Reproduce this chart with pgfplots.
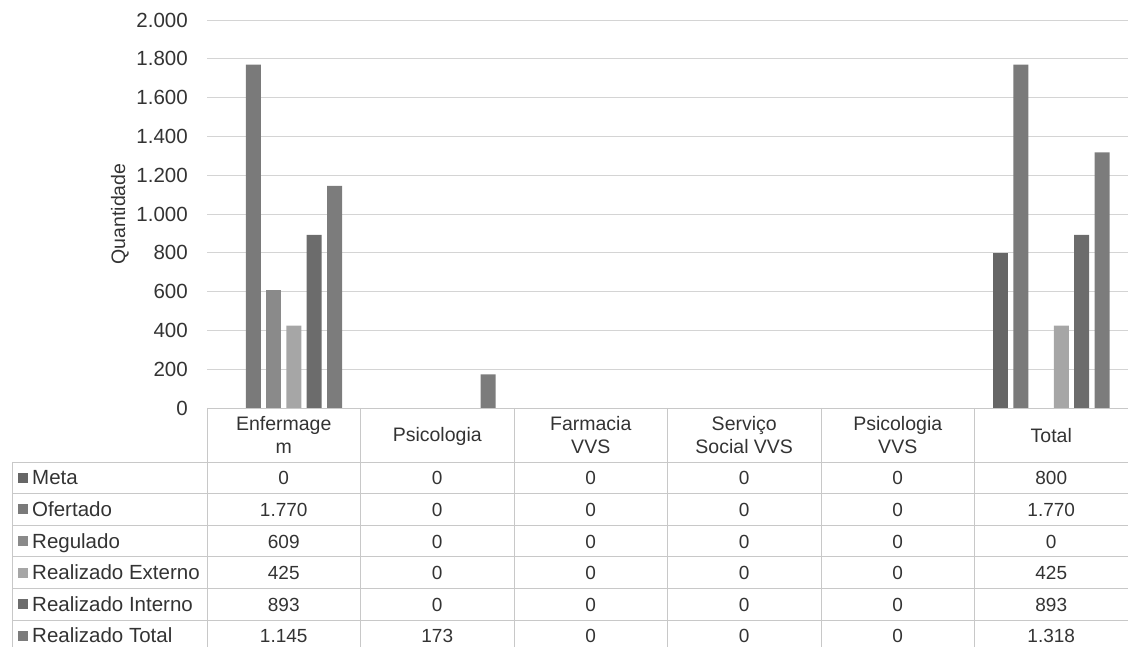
\documentclass[border=0pt]{standalone}
\usepackage{fontspec}
\setmainfont{Liberation Sans}
\usepackage{pgfplots}
\pgfplotsset{compat=1.18}
\usepackage{pgfplotstable}

\definecolor{cMeta}{HTML}{666666}
\definecolor{cOfer}{HTML}{7A7A7A}
\definecolor{cReg}{HTML}{8A8A8A}
\definecolor{cExt}{HTML}{A6A6A6}
\definecolor{cInt}{HTML}{6C6C6C}
\definecolor{cTot}{HTML}{7C7C7C}
\definecolor{gridc}{HTML}{D4D4D4}
\definecolor{tablec}{HTML}{C8C8C8}
\definecolor{txt}{HTML}{333333}

\pgfplotstableread{
x meta ofertado regulado rext rint rtot
0 0   1770 609 425 893 1145
1 0   0    0   0   0   173
2 0   0    0   0   0   0
3 0   0    0   0   0   0
4 0   0    0   0   0   0
5 800 1770 0   425 893 1318
}\datatable

\begin{document}
\begin{tikzpicture}[x=1pt,y=1pt]
\useasboundingbox (0,0) rectangle (1128,646);
\begin{axis}[
  at={(207pt,238pt)}, anchor=south west,
  scale only axis, width=921pt, height=388pt,
  xmin=-0.5, xmax=5.5, ymin=0, ymax=2000,
  ytick={0,200,...,2000}, xtick=\empty,
  ymajorgrids, grid style={color=gridc, line width=0.8pt},
  axis line style={draw=none},
  major tick length=0pt,
  yticklabel style={font=\fontsize{20.5}{24}\selectfont, text=txt, anchor=east, inner sep=0pt, xshift=-19pt},
  /pgf/number format/.cd, 1000 sep={.}, assume math mode=true,
  /pgfplots/.cd,
  ylabel={Quantidade},
  ylabel style={at={(axis description cs:-0.0945,0.5)}, anchor=center, font=\fontsize{19.5}{23}\selectfont, text=txt},
  every axis plot/.append style={ybar, bar width=15pt, draw=none, restrict y to domain=1:5000},
]
\addplot[bar shift=-50.75pt, fill=cMeta] table[x=x, y=meta] {\datatable};
\addplot[bar shift=-30.45pt, fill=cOfer] table[x=x, y=ofertado] {\datatable};
\addplot[bar shift=-10.15pt, fill=cReg] table[x=x, y=regulado] {\datatable};
\addplot[bar shift=10.15pt, fill=cExt] table[x=x, y=rext] {\datatable};
\addplot[bar shift=30.45pt, fill=cInt] table[x=x, y=rint] {\datatable};
\addplot[bar shift=50.75pt, fill=cTot] table[x=x, y=rtot] {\datatable};
\end{axis}

% data table
\begin{scope}[tablec, line width=0.8pt]
\draw (207,238) -- (1128,238);
\foreach \y in {184,152.4,120.8,89.2,57.6,26} \draw (12,\y) -- (1128,\y);
\foreach \x in {207,360.5,514,667.5,821,974.5} \draw (\x,238) -- (\x,-6);
\draw (12,184) -- (12,-6);
\end{scope}

\begin{scope}[every node/.style={font=\fontsize{19.5}{23}\selectfont, text=txt, align=center}]
\node at (283.75,211) {Enfermage\\m};
\node at (437.25,210) {Psicologia};
\node at (590.75,211) {Farmacia\\VVS};
\node at (744.25,211) {Serviço\\Social VVS};
\node at (897.75,211) {Psicologia\\VVS};
\node at (1051.25,210) {Total};
\end{scope}

\foreach \lab/\col/\y/\a/\b/\c/\d/\e/\f in {
  Meta/cMeta/168.2/0/0/0/0/0/800,
  Ofertado/cOfer/136.6/1.770/0/0/0/0/1.770,
  Regulado/cReg/105/609/0/0/0/0/0,
  Realizado Externo/cExt/73.4/425/0/0/0/0/425,
  Realizado Interno/cInt/41.8/893/0/0/0/0/893,
  Realizado Total/cTot/10.2/1.145/173/0/0/0/1.318}{
  \fill[\col] (18,\y-5) rectangle (28,\y+5);
  \node[anchor=base west, inner sep=0pt, font=\fontsize{20.5}{23}\selectfont, text=txt] at (32,\y-7) {\lab};
  \node[anchor=base, inner sep=0pt, font=\fontsize{19}{23}\selectfont, text=txt] at (283.75,\y-7) {\a};
  \node[anchor=base, inner sep=0pt, font=\fontsize{19}{23}\selectfont, text=txt] at (437.25,\y-7) {\b};
  \node[anchor=base, inner sep=0pt, font=\fontsize{19}{23}\selectfont, text=txt] at (590.75,\y-7) {\c};
  \node[anchor=base, inner sep=0pt, font=\fontsize{19}{23}\selectfont, text=txt] at (744.25,\y-7) {\d};
  \node[anchor=base, inner sep=0pt, font=\fontsize{19}{23}\selectfont, text=txt] at (897.75,\y-7) {\e};
  \node[anchor=base, inner sep=0pt, font=\fontsize{19}{23}\selectfont, text=txt] at (1051.25,\y-7) {\f};
}
\end{tikzpicture}
\end{document}
